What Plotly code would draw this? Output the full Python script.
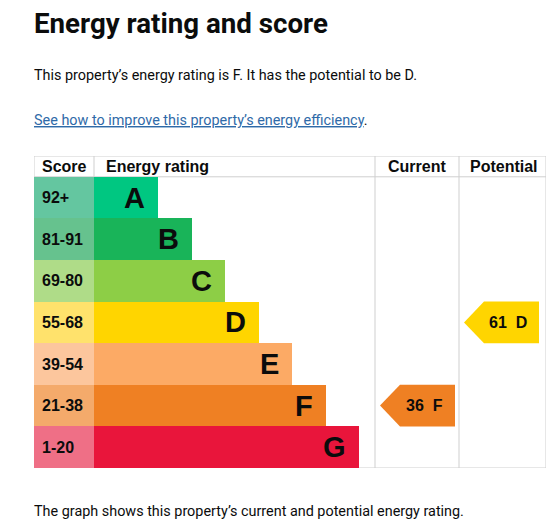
import plotly.graph_objects as go

# ---------------- data ----------------
bands = ["A", "B", "C", "D", "E", "F", "G"]
score_ranges = ["92+", "81-91", "69-80", "55-68", "39-54", "21-38", "1-20"]
band_min_scores = [92, 81, 69, 55, 39, 21, 1]
band_colors = ["#00c781", "#19b459", "#8dce46", "#ffd500", "#fcaa65", "#ef8023", "#e9153b"]
score_cell_colors = ["#64c6a0", "#66c28e", "#afdc88", "#ffe26c", "#fcc69d", "#f4aa6b", "#ef6f86"]
current_score = 36
potential_score = 61
column_headers = ["Score", "Energy rating", "Current", "Potential"]

title_text = "Energy rating and score"
summary_text = "This property\u2019s energy rating is F. It has the potential to be D."
link_text = "See how to improve this property\u2019s energy efficiency"
footer_text = "The graph shows this property\u2019s current and potential energy rating."

# ---------------- layout geometry (table units = px) ----------------
FIG_W, FIG_H = 558, 525
L, R, T, B = 34, 12, 156, 57
TABLE_W = FIG_W - L - R          # 512
SCORE_W = 60
BAR_BASE = SCORE_W
BAR_MIN = 64
BAR_STEP = 33.5
CUR_X0, CUR_X1 = 341, 425
POT_X0, POT_X1 = 425, 512
ARROW_W, ARROW_TIP, ARROW_INSET = 75, 20, 5
GRID = "#cfcfcf"
TXT = "#0b0c0c"
FONT = "Liberation Sans, Arial, sans-serif"
BODY_FONT = "Roboto, Noto Sans, sans-serif"


def band_index(score):
    for i, m in enumerate(band_min_scores):
        if score >= m:
            return i
    return len(bands) - 1


rows = list(range(len(bands)))
bar_len = [BAR_MIN + BAR_STEP * i for i in rows]

fig = go.Figure()

# score cells
fig.add_trace(go.Bar(
    y=rows, x=[SCORE_W] * len(rows), base=0, orientation="h", width=1,
    marker=dict(color=score_cell_colors, line=dict(width=0)),
    hoverinfo="skip", showlegend=False,
))
# rating bars
fig.add_trace(go.Bar(
    y=rows, x=bar_len, base=BAR_BASE, orientation="h", width=1,
    marker=dict(color=band_colors, line=dict(width=0)),
    hoverinfo="skip", showlegend=False,
))


def add_arrow(score, col_x0):
    i = band_index(score)
    tip = col_x0 + ARROW_INSET
    notch = tip + ARROW_TIP
    right = tip + ARROW_W
    fig.add_trace(go.Scatter(
        x=[tip, notch, right, right, notch, tip],
        y=[i, i - 0.5, i - 0.5, i + 0.5, i + 0.5, i],
        fill="toself", fillcolor=band_colors[i], mode="lines",
        line=dict(width=0, color=band_colors[i]),
        hoverinfo="skip", showlegend=False,
    ))
    fig.add_annotation(
        x=tip + 44, y=i, xref="x", yref="y", showarrow=False,
        text="<b>%d\u00a0\u00a0%s</b>" % (score, bands[i]),
        font=dict(family=FONT, size=16, color=TXT), xanchor="center", yanchor="middle",
    )


add_arrow(current_score, CUR_X0)
add_arrow(potential_score, POT_X0)

# band letters and score ranges
for i in rows:
    fig.add_annotation(
        x=BAR_BASE + bar_len[i] - 11, y=i, xref="x", yref="y", showarrow=False,
        text="<b>%s</b>" % bands[i], xanchor="right", yanchor="middle",
        font=dict(family=FONT, size=29, color=TXT),
    )
    fig.add_annotation(
        x=6, y=i, xref="x", yref="y", showarrow=False,
        text="<b>%s</b>" % score_ranges[i], xanchor="left", yanchor="middle",
        font=dict(family=FONT, size=16, color=TXT),
    )

# header row
hdr_y = -0.75
hdr_pos = [(6, "left"), (70, "left"), ((CUR_X0 + CUR_X1) / 2, "center"), ((POT_X0 + POT_X1) / 2 + 1, "center")]
for (hx, anc), h in zip(hdr_pos, column_headers):
    fig.add_annotation(
        x=hx, y=hdr_y, xref="x", yref="y", showarrow=False, text="<b>%s</b>" % h,
        xanchor=anc, yanchor="middle", font=dict(family=FONT, size=16, color=TXT),
    )

# grid lines
line = dict(color=GRID, width=1)
top, hdr_bot, bot = -1.0, -0.5, 6.5
fig.add_shape(type="line", x0=0, x1=TABLE_W, y0=top, y1=top, line=line, layer="below")
fig.add_shape(type="line", x0=0, x1=TABLE_W, y0=hdr_bot, y1=hdr_bot, line=line, layer="below")
fig.add_shape(type="line", x0=0, x1=TABLE_W, y0=bot, y1=bot, line=line, layer="below")
for vx in [0, SCORE_W]:
    fig.add_shape(type="line", x0=vx, x1=vx, y0=top, y1=hdr_bot, line=line, layer="below")
for vx in [CUR_X0, POT_X0, POT_X1]:
    fig.add_shape(type="line", x0=vx, x1=vx, y0=top, y1=bot, line=line, layer="below")


# page texts (paper coords from pixel positions)
def py(ypix):
    return (FIG_H - B - ypix) / (FIG_H - T - B)


def pxx(xpix):
    return (xpix - L) / TABLE_W


texts = [
    (title_text, 23, 27.7, True, TXT),
    (summary_text, 75, 14.4, False, TXT),
    (footer_text, 511, 14.4, False, TXT),
]
for t, yy, sz, bold, col in texts:
    fig.add_annotation(
        x=pxx(31.5), y=py(yy), xref="paper", yref="paper", showarrow=False,
        text=("<b>%s</b>" % t) if bold else t, xanchor="left", yanchor="middle",
        font=dict(family=BODY_FONT, size=sz, color=col),
    )
fig.add_annotation(
    x=pxx(31.5), y=py(121), xref="paper", yref="paper", showarrow=False,
    text='<span style="text-decoration:underline">%s</span><span style="color:%s">.</span>' % (link_text, TXT),
    xanchor="left", yanchor="middle",
    font=dict(family=BODY_FONT, size=14.4, color="#2f6aa8"),
)

fig.update_layout(
    width=FIG_W, height=FIG_H, margin=dict(l=L, r=R, t=T, b=B),
    paper_bgcolor="white", plot_bgcolor="white", barmode="overlay", bargap=0,
    xaxis=dict(range=[0, TABLE_W], visible=False, fixedrange=True),
    yaxis=dict(range=[6.5, -1.0], visible=False, fixedrange=True),
    showlegend=False,
)

fig.write_html("out.html", config={"displayModeBar": False},
               post_script="document.body.style.margin='0';")
